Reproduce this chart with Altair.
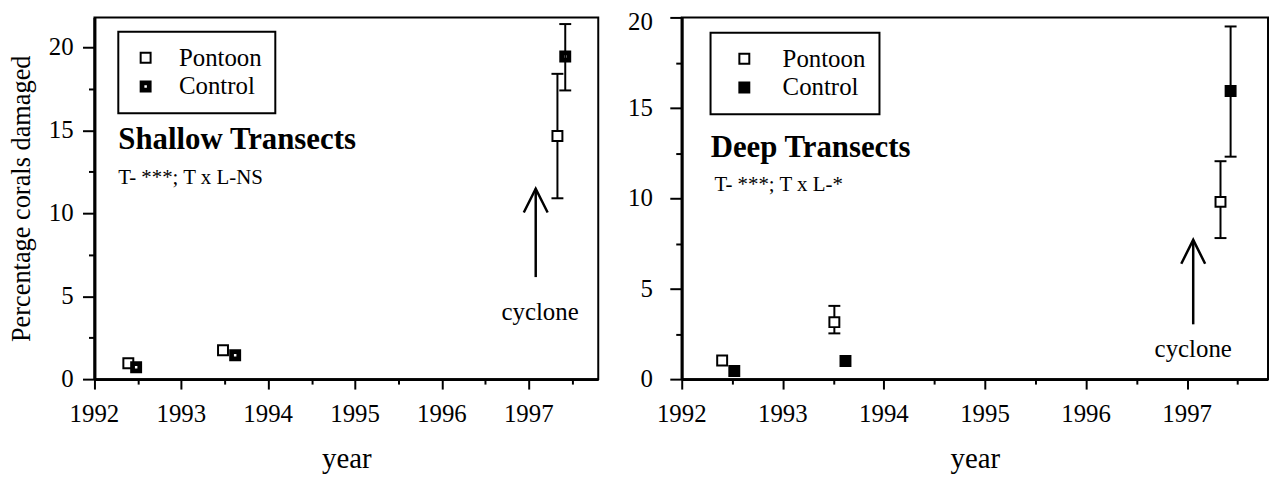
import altair as alt
import pandas as pd

FONT = "Liberation Serif"

# ---------------- data ----------------
series_names = ["Pontoon", "Control"]
x_ticks = [1992, 1993, 1994, 1995, 1996, 1997]
x_minor = [1992.5, 1993.5, 1994.5, 1995.5, 1996.5, 1997.5]
y_ticks = [0, 5, 10, 15, 20]
y_minor = [2.5, 7.5, 12.5, 17.5]

# Shallow transects
sh_year = [1992.39, 1993.48, 1997.33, 1992.48, 1993.62, 1997.42]
sh_series = ["Pontoon", "Pontoon", "Pontoon", "Control", "Control", "Control"]
sh_value = [0.96, 1.74, 14.65, 0.72, 1.44, 19.45]
sh_lo = [None, None, 10.9, None, None, 17.4]
sh_hi = [None, None, 18.4, None, None, 21.4]

# Deep transects
dp_year = [1992.40, 1993.51, 1997.33, 1992.52, 1993.62, 1997.43]
dp_series = ["Pontoon", "Pontoon", "Pontoon", "Control", "Control", "Control"]
dp_value = [1.03, 3.15, 9.8, 0.45, 1.0, 15.93]
dp_lo = [None, 2.53, 7.8, None, None, 12.3]
dp_hi = [None, 4.05, 12.05, None, None, 19.5]

# cyclone arrows (year, tail value, tip value)
sh_arrow = [1997.08, 6.15, 11.48]
dp_arrow = [1997.06, 3.03, 7.7]

HOLED_SQUARE = "M-1,-1L1,-1L1,1L-1,1Z M-0.45,-0.45L-0.45,0.45L0.45,0.45L0.45,-0.45Z"
ARROW_HEAD = "M-0.5,1L0,0L0.5,1"


def panel(years, series, values, lo, hi, arrow, ydom, width, height,
          ytitle, ylabpad, fill_range, shape_range, legend_xy, legend_extra,
          title_txt, title_pos, sub_txt, sub_pos, cyc_pos, top_label_offset):
    xs = alt.Scale(domain=[1992, 1997.8], nice=False, zero=False)
    ys = alt.Scale(domain=ydom, nice=False, zero=False)

    pts = pd.DataFrame({"year": years, "series": series, "value": values})
    err = pd.DataFrame({"year": years, "lo": lo, "hi": hi}).dropna()

    common = dict(titleFont=FONT, titleColor="black", titleFontWeight="normal",
                  tickColor="black", tickWidth=2, domainColor="black", domainWidth=3,
                  grid=False, labels=False)
    main_x = alt.Axis(values=x_ticks, title="year", tickSize=10,
                      titleFontSize=29, titlePadding=55, orient="bottom", **common)
    main_y = alt.Axis(values=y_ticks, title=ytitle, tickSize=12,
                      titleFontSize=26.5, titlePadding=46, orient="left", **common)
    minor_x = alt.Axis(values=x_minor, labels=False, domain=False, tickSize=5,
                       title=None, orient="bottom", tickColor="black", tickWidth=2, grid=False)
    minor_y = alt.Axis(values=y_minor, labels=False, domain=False, tickSize=6,
                       title=None, orient="left", tickColor="black", tickWidth=2, grid=False)

    bars = alt.Chart(err).mark_rule(color="black", strokeWidth=2).encode(
        x=alt.X("year:Q", scale=xs, axis=main_x),
        y=alt.Y("lo:Q", scale=ys, axis=main_y),
        y2="hi:Q",
    )
    cap_lo = alt.Chart(err).mark_tick(orient="horizontal", size=12, thickness=2,
                                      color="black", opacity=1).encode(
        x=alt.X("year:Q", scale=xs, axis=None),
        y=alt.Y("lo:Q", scale=ys, axis=None),
    )
    cap_hi = alt.Chart(err).mark_tick(orient="horizontal", size=12, thickness=2,
                                      color="black", opacity=1).encode(
        x=alt.X("year:Q", scale=xs, axis=None),
        y=alt.Y("hi:Q", scale=ys, axis=None),
    )

    # tick labels (serif), positioned through the scales
    xlab = alt.Chart(pd.DataFrame({"v": x_ticks})).mark_text(
        font=FONT, fontSize=25, baseline="top", align="center", color="black").encode(
        x=alt.X("v:Q", scale=xs, axis=None),
        y=alt.value(height + 23),
        text=alt.Text("v:Q", format="d"),
    )
    low_ticks = [v for v in y_ticks if v != 20]
    ylab_low = alt.Chart(pd.DataFrame({"v": low_ticks})).mark_text(
        font=FONT, fontSize=25, baseline="middle", align="right", color="black").encode(
        y=alt.Y("v:Q", scale=ys, axis=None),
        x=alt.value(-(12 + ylabpad)),
        text=alt.Text("v:Q", format="d"),
    )
    ylab_top = alt.Chart(pd.DataFrame({"v": [20]})).mark_text(
        font=FONT, fontSize=25, baseline="middle", align="right", color="black",
        dy=top_label_offset).encode(
        y=alt.Y("v:Q", scale=ys, axis=None),
        x=alt.value(-(12 + ylabpad)),
        text=alt.Text("v:Q", format="d"),
    )

    arr = pd.DataFrame({"year": [arrow[0]], "tail": [arrow[1]], "tip": [arrow[2]]})
    shaft = alt.Chart(arr).mark_rule(color="black", strokeWidth=2.5).encode(
        x=alt.X("year:Q", scale=xs, axis=None),
        y=alt.Y("tail:Q", scale=ys, axis=None),
        y2="tip:Q",
    )
    head = alt.Chart(arr).mark_point(shape=ARROW_HEAD, size=2304, filled=False,
                                     color="black", strokeWidth=2.5, opacity=1).encode(
        x=alt.X("year:Q", scale=xs, axis=None),
        y=alt.Y("tip:Q", scale=ys, axis=None),
    )

    def txt(label, pos, **kw):
        d = pd.DataFrame({"x": [pos[0]], "y": [pos[1]], "t": [label]})
        return alt.Chart(d).mark_text(font=FONT, color="black", **kw).encode(
            x=alt.X("x:Q", scale=xs, axis=None),
            y=alt.Y("y:Q", scale=ys, axis=None),
            text="t:N",
        )

    t1 = txt(title_txt, title_pos, align="left", baseline="alphabetic",
             fontSize=31, fontWeight="bold")
    t2 = txt(sub_txt, sub_pos, align="left", baseline="alphabetic", fontSize=21)
    t3 = txt("cyclone", cyc_pos, align="center", baseline="middle", fontSize=25)

    leg = dict(orient="none", legendX=legend_xy[0], legendY=legend_xy[1], title=None,
               strokeColor="black", padding=13.5, rowPadding=3,
               symbolOffset=legend_extra["symbolOffset"],
               labelOffset=legend_extra["labelOffset"],
               symbolSize=100, symbolStrokeWidth=2, symbolStrokeColor="black",
               symbolOpacity=1,
               labelFont=FONT, labelFontSize=25, labelColor="black", labelLimit=300)

    enc = dict(
        x=alt.X("year:Q", scale=xs, axis=minor_x),
        y=alt.Y("value:Q", scale=ys, axis=minor_y),
        fill=alt.Fill("series:N", scale=alt.Scale(domain=series_names, range=fill_range),
                      legend=alt.Legend(**leg)),
        stroke=alt.Stroke("series:N", scale=alt.Scale(domain=series_names, range=["black", "black"]),
                          legend=alt.Legend(**leg)),
        shape=alt.Shape("series:N", scale=alt.Scale(domain=series_names, range=shape_range),
                        legend=alt.Legend(**leg)),
    )
    points = alt.Chart(pts).mark_point(filled=True, size=100,
                                       strokeWidth=2, opacity=1).encode(**enc)

    return alt.layer(bars, cap_lo, cap_hi, xlab, ylab_low, ylab_top, shaft, head,
                     t1, t2, t3, points).resolve_axis(
        x="independent", y="independent").properties(width=width, height=height)


left = panel(sh_year, sh_series, sh_value, sh_lo, sh_hi, sh_arrow, [0, 21.8], 507, 364,
             "Percentage corals damaged", 9, ["white", "black"], ["square", HOLED_SQUARE],
             (24, 14.5), {"symbolOffset": 1.5, "labelOffset": 21},
             "Shallow Transects", (1992.275, 13.88), "T- ***; T x L-NS", (1992.275, 11.78),
             (1997.13, 4.05), 0)

right = panel(dp_year, dp_series, dp_value, dp_lo, dp_hi, dp_arrow, [0, 20], 590, 364,
              None, 17, ["white", "black"], ["square", "square"],
              (29, 15.5), {"symbolOffset": 8, "labelOffset": 26},
              "Deep Transects", (1992.286, 12.3), "T- ***; T x L-*", (1992.325, 10.4),
              (1997.06, 1.68), 5)

chart = alt.hconcat(left, right, spacing=84, bounds="flush").resolve_scale(
    fill="independent", shape="independent", stroke="independent",
    x="independent", y="independent"
).resolve_legend(fill="independent", shape="independent", stroke="independent").properties(
    padding=0, background="white"
).configure(font=FONT).configure_view(stroke="black", strokeWidth=2).configure_axis(
    grid=False, domainColor="black", tickColor="black",
    titleColor="black", titleFont=FONT, titleFontWeight="normal", tickWidth=2, domainWidth=3
).configure_legend(strokeWidth=2)

chart.save("out.html", embed_options={"renderer": "svg", "actions": False})
